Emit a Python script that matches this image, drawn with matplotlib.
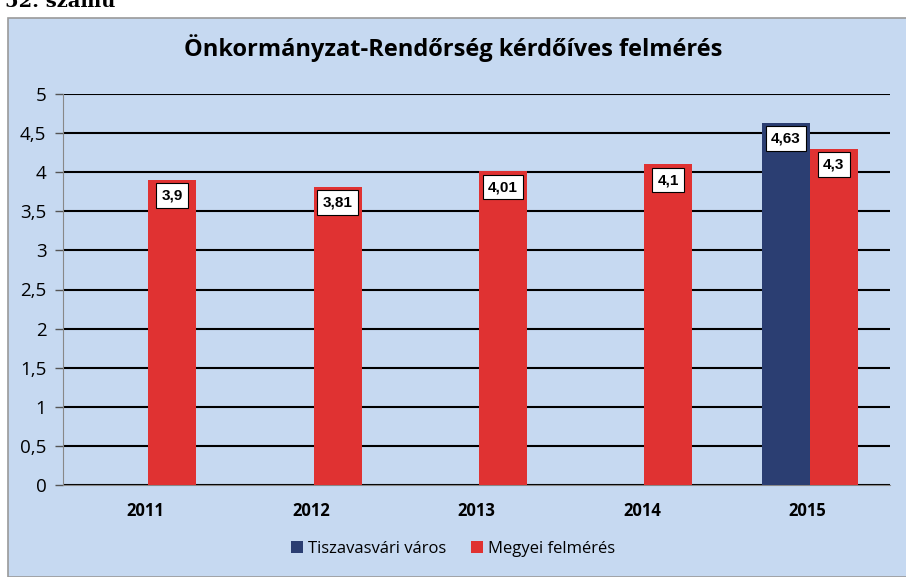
import matplotlib.pyplot as plt
import numpy as np
from matplotlib.patches import Rectangle

years = ["2011", "2012", "2013", "2014", "2015"]
tiszavasvari = [np.nan, np.nan, np.nan, np.nan, 4.63]
megyei = [3.9, 3.81, 4.01, 4.1, 4.3]
y_ticks = [0, 0.5, 1, 1.5, 2, 2.5, 3, 3.5, 4, 4.5, 5]
y_labels = ["0", "0,5", "1", "1,5", "2", "2,5", "3", "3,5", "4", "4,5", "5"]

bg = "#C6D9F1"
blue = "#2B3E72"
red = "#E03232"

fig = plt.figure(figsize=(9.06, 5.77), dpi=100)
fig.patch.set_facecolor("white")

# chart frame (scanned Excel chart area)
fig.patches.append(Rectangle((8 / 906, 0), 1.0, 1 - 18 / 577, transform=fig.transFigure,
                             facecolor=bg, edgecolor="#9a9a9a", linewidth=1.2, zorder=-10))
fig.text(0.005, 1.012, "52. számú", ha="left", va="top", fontsize=14, fontweight="bold",
         family="DejaVu Serif")

ax = fig.add_axes([63 / 906, 1 - 485 / 577, (890 - 63) / 906, (485 - 94) / 577])
ax.set_facecolor("none")

x = np.arange(len(years))
w = 0.29
b1 = ax.bar(x - w / 2 + 0.015, tiszavasvari, w, color=blue, label="Tiszavasvári város", zorder=3)
b2 = ax.bar(x + w / 2 + 0.015, megyei, w, color=red, label="Megyei felmérés", zorder=3)

for bars, vals in ((b1, tiszavasvari), (b2, megyei)):
    for rect, v in zip(bars, vals):
        if np.isnan(v):
            continue
        ax.text(rect.get_x() + rect.get_width() / 2, v - 0.2, f"{v:g}".replace(".", ","),
                ha="center", va="center", fontsize=11, fontweight="bold", family="Liberation Sans",
                bbox=dict(boxstyle="square,pad=0.35", facecolor="white", edgecolor="black", linewidth=0.8),
                zorder=5)

ax.set_xlim(-0.5, 4.5)
ax.set_ylim(0, 5)
ax.set_yticks(y_ticks)
ax.set_yticklabels(y_labels, fontsize=13.5, family="Open Sans")
ax.set_xticks(x)
ax.set_xticklabels(years, fontsize=12, fontweight="bold", family="Open Sans")
ax.tick_params(axis="x", length=0, pad=12)
ax.tick_params(axis="y", length=6, width=1, pad=6, color="#555555")
ax.grid(axis="y", color="black", linewidth=1.5, zorder=1)
for s in ("top", "right"):
    ax.spines[s].set_visible(False)
ax.spines["left"].set_color("#888888")
ax.spines["bottom"].set_color("#888888")

fig.text(0.5, 1 - 48 / 577, "Önkormányzat-Rendőrség kérdőíves felmérés", ha="center", va="center",
         fontsize=17, fontweight="bold", family="Open Sans")

fig.legend(handles=[b1, b2], loc="center", bbox_to_anchor=(0.5, 1 - 549 / 577), ncol=2,
           frameon=False, prop={"family": "Open Sans", "size": 12},
           handlelength=0.7, handleheight=0.7, handletextpad=0.3, columnspacing=1.5)

plt.savefig("out.png", dpi=100)
